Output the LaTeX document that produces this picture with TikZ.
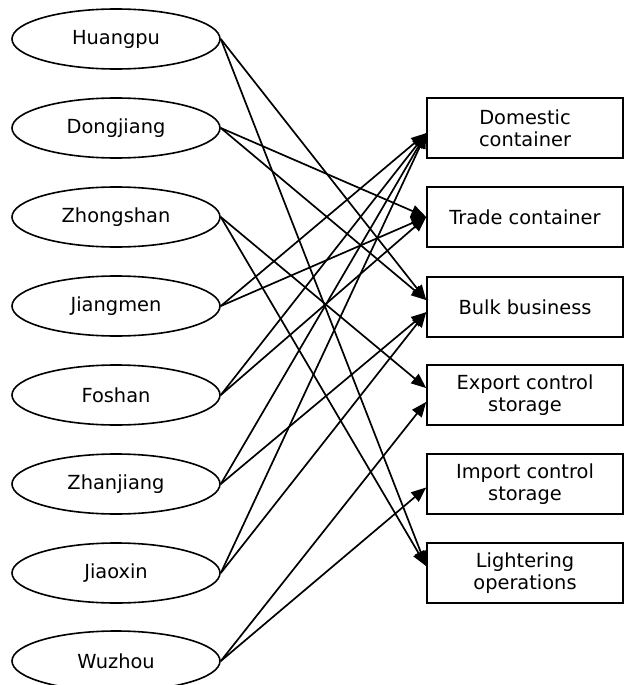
\documentclass[tikz,border=0pt]{standalone}
\usepackage{fontspec}
\setmainfont{DejaVu Sans}
\usetikzlibrary{shapes.geometric,arrows.meta}
\begin{document}
\begin{tikzpicture}[x=0.5pt,y=-0.5pt,
  port/.style={ellipse,draw,line width=0.8pt,minimum width=104pt,minimum height=30pt,inner sep=0pt,font=\fontsize{9.7}{11.6}\selectfont},
  func/.style={rectangle,draw,line width=0.8pt,minimum width=98pt,minimum height=30pt,inner sep=0pt,align=center,font=\fontsize{9.7}{11}\selectfont},
  link/.style={line width=0.85pt,-{Triangle[length=7.5pt,width=6pt]}}]
\useasboundingbox (0,0) rectangle (624,685);
\node[port] (huangpu) at (116,39) {Huangpu};
\node[port] (dongjiang) at (116,128) {Dongjiang};
\node[port] (zhongshan) at (116,217) {Zhongshan};
\node[port] (jiangmen) at (116,306) {Jiangmen};
\node[port] (foshan) at (116,395) {Foshan};
\node[port] (zhanjiang) at (116,484) {Zhanjiang};
\node[port] (jiaoxin) at (116,573) {Jiaoxin};
\node[port] (wuzhou) at (116,661) {Wuzhou};
\node[func] (dom) at (525,128) {Domestic\\container};
\node[func] (trade) at (525,217) {Trade container};
\node[func] (bulk) at (525,307) {Bulk business};
\node[func] (export) at (525,395) {Export control\\storage};
\node[func] (import) at (525,484) {Import control\\storage};
\node[func] (light) at (525,573) {Lightering\\operations};
% port -> business
\draw[link] (huangpu.east) -- (bulk.176.5);
\draw[link] (huangpu.east) -- (light.176.5);
\draw[link] (dongjiang.east) -- (trade.west);
\draw[link] (dongjiang.east) -- (bulk.176.5);
\draw[link] (zhongshan.east) -- (export.176);
\draw[link] (zhongshan.east) -- (light.176.5);
\draw[link] (jiangmen.east) -- (dom.183);
\draw[link] (jiangmen.east) -- (trade.west);
\draw[link] (foshan.east) -- (dom.183);
\draw[link] (foshan.east) -- (trade.west);
\draw[link] (zhanjiang.east) -- (dom.183);
\draw[link] (zhanjiang.east) -- (bulk.183.5);
\draw[link] (jiaoxin.east) -- (dom.183);
\draw[link] (jiaoxin.east) -- (bulk.183.5);
\draw[link] (wuzhou.east) -- (export.184);
\draw[link] (wuzhou.east) -- (import.182.5);
\end{tikzpicture}
\end{document}
